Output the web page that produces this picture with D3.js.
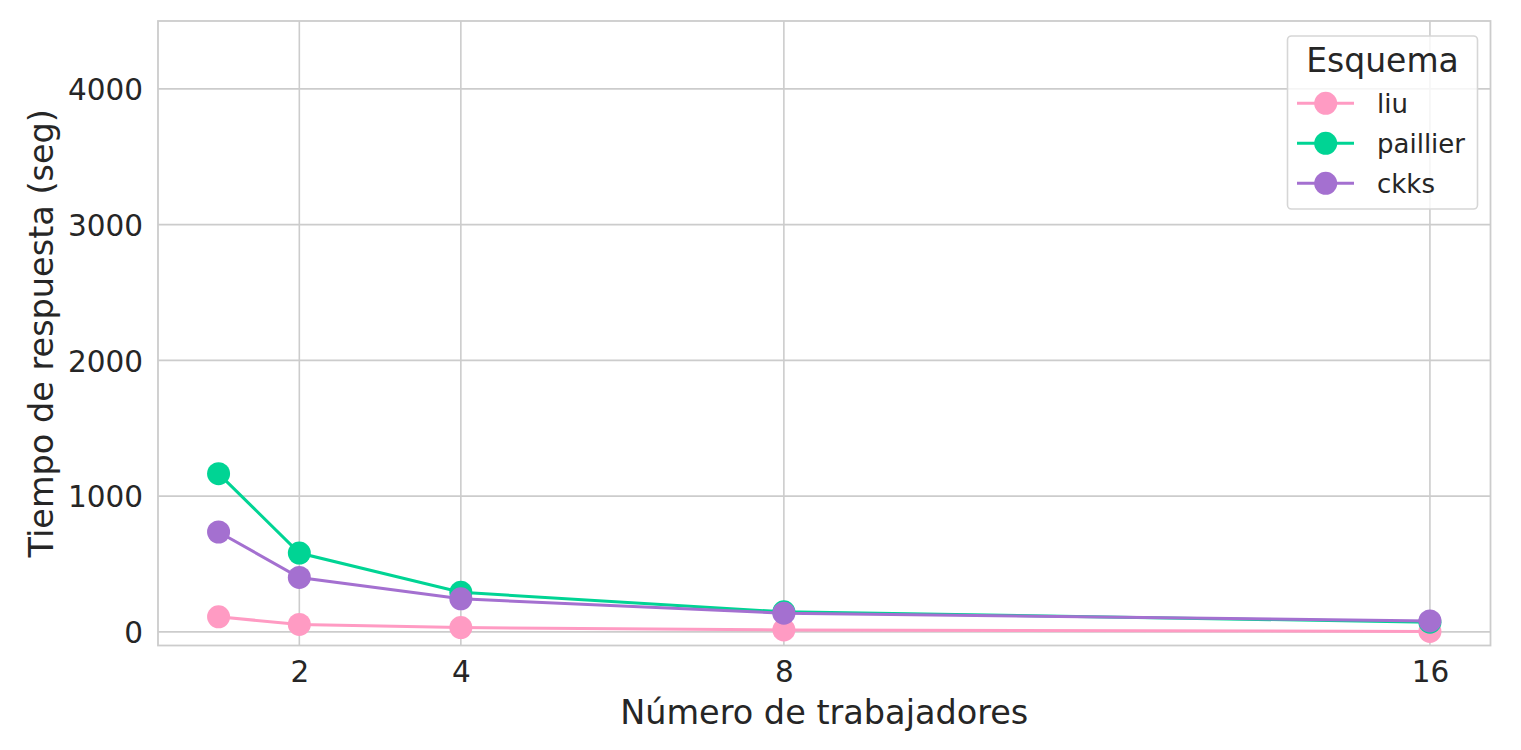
<!DOCTYPE html>
<html>
<head>
<meta charset="utf-8">
<script src="https://cdn.jsdelivr.net/npm/d3@7"></script>
<style>
  html, body { margin: 0; padding: 0; background: #ffffff; }
  svg { display: block; font-family: "DejaVu Sans", sans-serif; }
</style>
</head>
<body>
<script>
// ---- Data ----
const workers = [1, 2, 4, 8, 16];
const xTicks = [2, 4, 8, 16];
const yTicks = [0, 1000, 2000, 3000, 4000];
const seriesNames = ["liu", "paillier", "ckks"];
const liu = [111, 55, 32, 15, 4];
const paillier = [1166, 581, 292, 148, 72];
const ckks = [736, 401, 244, 138, 81];
const seriesColors = ["#ff9bc3", "#00d494", "#a470d0"];
const xLabel = "Número de trabajadores";
const yLabel = "Tiempo de respuesta (seg)";
const legendTitle = "Esquema";

const W = 1521, H = 750;
const margin = { left: 158, right: W - 1490.5, top: 21, bottom: H - 645.5 };

const svg = d3.select("body").append("svg").attr("width", W).attr("height", H);

const x = d3.scaleLinear().domain([0.25, 16.75]).range([margin.left, W - margin.right]);
const y = d3.scaleLinear().domain([-100, 4500]).range([H - margin.bottom, margin.top]);

const gridColor = "#cccccc";
const textColor = "#262626";

// grid
const g = svg.append("g");
g.selectAll("line.vg").data(xTicks).enter().append("line")
  .attr("x1", d => x(d)).attr("x2", d => x(d))
  .attr("y1", margin.top).attr("y2", H - margin.bottom)
  .attr("stroke", gridColor).attr("stroke-width", 1.6);
g.selectAll("line.hg").data(yTicks).enter().append("line")
  .attr("y1", d => y(d)).attr("y2", d => y(d))
  .attr("x1", margin.left).attr("x2", W - margin.right)
  .attr("stroke", gridColor).attr("stroke-width", 1.6);

// spines
svg.append("rect")
  .attr("x", margin.left).attr("y", margin.top)
  .attr("width", W - margin.right - margin.left)
  .attr("height", H - margin.bottom - margin.top)
  .attr("fill", "none").attr("stroke", gridColor).attr("stroke-width", 1.8);

// axes via d3
const xAxis = d3.axisBottom(x).tickValues(xTicks).tickSize(0).tickPadding(16).tickFormat(d3.format("d"));
const xg = svg.append("g").attr("transform", `translate(0,${H - margin.bottom})`).call(xAxis);
xg.select(".domain").remove();
xg.selectAll("text").attr("font-size", 29.5).attr("fill", textColor).attr("font-family", "DejaVu Sans");

const yAxis = d3.axisLeft(y).tickValues(yTicks).tickSize(0).tickPadding(15).tickFormat(d3.format("d"));
const yg = svg.append("g").attr("transform", `translate(${margin.left},0)`).call(yAxis);
yg.select(".domain").remove();
yg.selectAll("text").attr("font-size", 29.5).attr("fill", textColor).attr("font-family", "DejaVu Sans")
  .attr("dy", "0.36em");

// axis labels
svg.append("text").attr("x", (margin.left + W - margin.right) / 2).attr("y", 724)
  .attr("text-anchor", "middle").attr("font-size", 33.5).attr("fill", textColor).text(xLabel);
svg.append("text").attr("transform", `translate(53,${(margin.top + H - margin.bottom) / 2}) rotate(-90)`)
  .attr("text-anchor", "middle").attr("font-size", 33.5).attr("fill", textColor).text(yLabel);

// series
const allSeries = [liu, paillier, ckks];
const line = d3.line().x((d, i) => x(workers[i])).y(d => y(d));
allSeries.forEach((vals, si) => {
  const sg = svg.append("g");
  sg.append("path").datum(vals).attr("d", line)
    .attr("fill", "none").attr("stroke", seriesColors[si]).attr("stroke-width", 3);
  sg.selectAll("circle").data(vals).enter().append("circle")
    .attr("cx", (d, i) => x(workers[i])).attr("cy", d => y(d))
    .attr("r", 11.5).attr("fill", seriesColors[si]);
});

// legend
const lg = svg.append("g");
lg.append("rect").attr("x", 1287.5).attr("y", 36).attr("width", 190).attr("height", 173)
  .attr("rx", 4).attr("ry", 4)
  .attr("fill", "#ffffff").attr("fill-opacity", 0.8)
  .attr("stroke", "#d6d6d6").attr("stroke-width", 1.6);
lg.append("text").attr("x", 1382.5).attr("y", 72).attr("text-anchor", "middle")
  .attr("font-size", 33).attr("fill", textColor).text(legendTitle);
seriesNames.forEach((name, i) => {
  const cy = 103.3 + i * 40;
  lg.append("line").attr("x1", 1297).attr("x2", 1354).attr("y1", cy).attr("y2", cy)
    .attr("stroke", seriesColors[i]).attr("stroke-width", 3);
  lg.append("circle").attr("cx", 1325.7).attr("cy", cy).attr("r", 11.5).attr("fill", seriesColors[i]);
  lg.append("text").attr("x", 1377).attr("y", cy + 9.5).attr("font-size", 26)
    .attr("fill", textColor).text(name);
});
</script>
</body>
</html>
